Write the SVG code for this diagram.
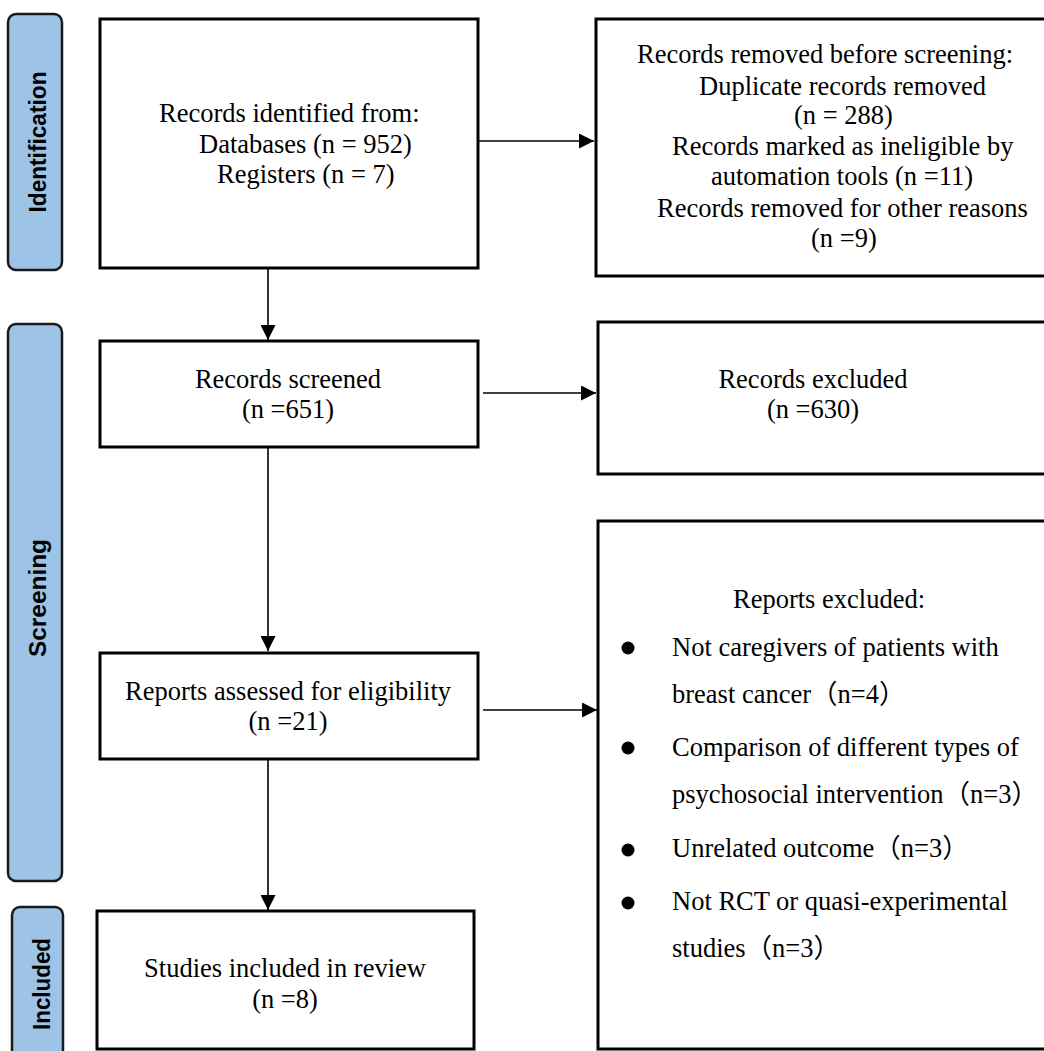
<svg xmlns="http://www.w3.org/2000/svg" width="1044" height="1051" viewBox="0 0 1044 1051">
<style>
.box{fill:#fff;stroke:#000;stroke-width:3}
.lab{fill:#9dc3e6;stroke:#1a1a1a;stroke-width:2.5}
.lt{font-family:"Liberation Sans",Arial,sans-serif;font-weight:bold;font-size:23.5px;fill:#000}
.t{font-family:"Liberation Serif","Noto Sans CJK SC",serif;font-size:26.5px;fill:#000}
.m{text-anchor:middle}
.ln{stroke:#000;stroke-width:1.6;fill:none}
</style>
<defs>
<marker id="ah" viewBox="0 0 10 10" refX="10" refY="5" markerWidth="16" markerHeight="15" markerUnits="userSpaceOnUse" orient="auto">
<path d="M0,0 L10,5 L0,10 Z" fill="#000"/>
</marker>
</defs>
<rect width="1044" height="1051" fill="#fff"/>
<g id="label-identification">
<rect class="lab" x="8" y="14" width="54" height="256" rx="8"/>
<text class="lt m" transform="translate(46,142) rotate(-90)" textLength="141" lengthAdjust="spacingAndGlyphs">Identification</text>
</g>
<g id="label-screening">
<rect class="lab" x="8" y="324" width="54" height="557" rx="8"/>
<text class="lt m" transform="translate(46,598) rotate(-90)" textLength="118" lengthAdjust="spacingAndGlyphs">Screening</text>
</g>
<g id="label-included">
<rect class="lab" x="12" y="907" width="51" height="160" rx="8"/>
<text class="lt m" transform="translate(50,984) rotate(-90)" textLength="92" lengthAdjust="spacingAndGlyphs">Included</text>
</g>
<g id="connectors">
<line class="ln" x1="478" y1="141" x2="594" y2="141" marker-end="url(#ah)"/>
<line class="ln" x1="268" y1="268" x2="268" y2="340" marker-end="url(#ah)"/>
<line class="ln" x1="483" y1="393" x2="596" y2="393" marker-end="url(#ah)"/>
<line class="ln" x1="268" y1="447" x2="268" y2="651" marker-end="url(#ah)"/>
<line class="ln" x1="483" y1="710" x2="597" y2="710" marker-end="url(#ah)"/>
<line class="ln" x1="268" y1="759" x2="268" y2="910" marker-end="url(#ah)"/>
</g>
<g id="records-identified">
<rect class="box" x="100" y="19" width="378" height="249"/>
<text class="t" x="159" y="122">Records identified from:</text>
<text class="t" x="199" y="153">Databases (n = 952)</text>
<text class="t" x="217" y="183">Registers (n = 7)</text>
</g>
<g id="records-removed">
<rect class="box" x="596" y="19" width="460" height="257"/>
<text class="t" x="637" y="63">Records removed before screening:</text>
<text class="t" x="699" y="95">Duplicate records removed</text>
<text class="t" x="794" y="124">(n = 288)</text>
<text class="t" x="672" y="155">Records marked as ineligible by</text>
<text class="t" x="711" y="185">automation tools (n =11)</text>
<text class="t" x="657" y="217">Records removed for other reasons</text>
<text class="t" x="811" y="247">(n =9)</text>
</g>
<g id="records-screened">
<rect class="box" x="100" y="341" width="378" height="106"/>
<text class="t m" x="288" y="388">Records screened</text>
<text class="t m" x="288" y="418">(n =651)</text>
</g>
<g id="records-excluded">
<rect class="box" x="598" y="322" width="460" height="152"/>
<text class="t m" x="813" y="388">Records excluded</text>
<text class="t m" x="813" y="418">(n =630)</text>
</g>
<g id="reports-assessed">
<rect class="box" x="100" y="653" width="378" height="106"/>
<text class="t m" x="288" y="700">Reports assessed for eligibility</text>
<text class="t m" x="288" y="730">(n =21)</text>
</g>
<g id="reports-excluded">
<rect class="box" x="598" y="521" width="460" height="528"/>
<text class="t" x="733" y="608">Reports excluded:</text>
<circle cx="628" cy="648" r="6.5"/>
<text class="t" x="672" y="656">Not caregivers of patients with</text>
<text class="t" x="672" y="703">breast cancer（n=4）</text>
<circle cx="628" cy="748" r="6.5"/>
<text class="t" x="672" y="756">Comparison of different types of</text>
<text class="t" x="672" y="803">psychosocial intervention（n=3）</text>
<circle cx="628" cy="850" r="6.5"/>
<text class="t" x="672" y="857">Unrelated outcome（n=3）</text>
<circle cx="628" cy="903" r="6.5"/>
<text class="t" x="672" y="910">Not RCT or quasi-experimental</text>
<text class="t" x="672" y="957">studies（n=3）</text>
</g>
<g id="studies-included">
<rect class="box" x="97" y="911" width="377" height="138"/>
<text class="t m" x="285" y="977">Studies included in review</text>
<text class="t m" x="285" y="1008">(n =8)</text>
</g>
</svg>
